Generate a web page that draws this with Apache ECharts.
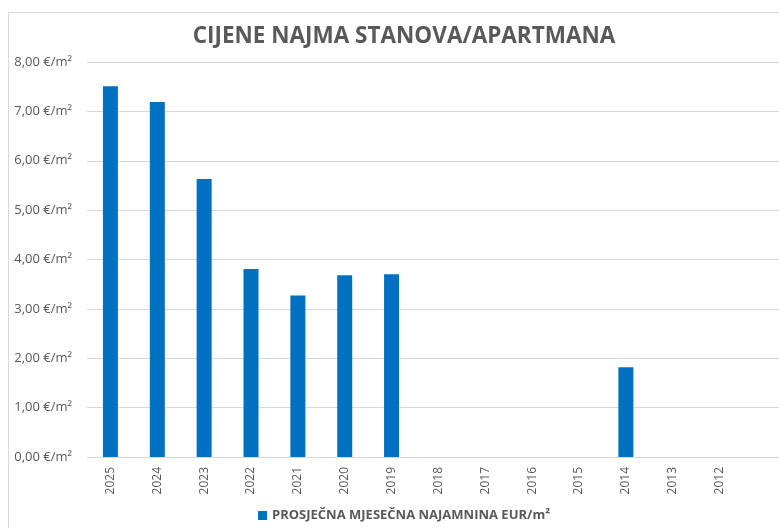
<!DOCTYPE html>
<html>
<head>
    <meta charset="utf-8">
    <title>Cijene najma</title>
    <script src="https://cdn.jsdelivr.net/npm/echarts@6/dist/echarts.min.js"></script>
    <style>
        html, body { margin: 0; padding: 0; background: #fff; }
        #frame { position: absolute; left: 8px; top: 12px; width: 790px; height: 530px;
                 border-left: 1px solid #d9d9d9; border-top: 1px solid #d9d9d9; }
        #main { position: absolute; left: 0; top: 0; width: 779px; height: 528px; }
    </style>
</head>
<body>
<div id="frame"></div>
<div id="main"></div>
<script type="text/javascript">
    var years = ['2025', '2024', '2023', '2022', '2021', '2020', '2019',
                 '2018', '2017', '2016', '2015', '2014', '2013', '2012'];
    var rent = [7.51, 7.19, 5.63, 3.81, 3.27, 3.68, 3.70,
                null, null, null, null, 1.82, null, null];
    var yTicks = [0, 1, 2, 3, 4, 5, 6, 7, 8];
    var seriesName = 'PROSJEČNA MJESEČNA NAJAMNINA EUR/m²';

    var myChart = echarts.init(document.getElementById('main'));

    var yMin = yTicks[0], yMax = yTicks[yTicks.length - 1];

    var option = {
        animation: false,
        textStyle: { fontFamily: 'Open Sans' },
        title: {
            text: 'CIJENE NAJMA STANOVA/APARTMANA',
            left: 399,
            textAlign: 'center',
            top: 20,
            textStyle: { fontSize: 22.5, fontWeight: 'bold', color: '#595959', fontFamily: 'Open Sans' }
        },
        legend: {
            bottom: 1,
            left: 253,
            itemWidth: 9,
            itemHeight: 9,
            icon: 'rect',
            itemGap: 5,
            textStyle: { fontSize: 13, fontWeight: 'bold', color: '#595959' },
            data: [seriesName]
        },
        // grid 0: bars and labels; grid 1: only the horizontal gridlines, running to the right edge
        grid: [
            { left: 87, right: 36, top: 62, bottom: 71, containLabel: false },
            { left: 87, right: 0, top: 62, bottom: 71, containLabel: false }
        ],
        xAxis: [{
            gridIndex: 0,
            type: 'category',
            data: years,
            axisTick: { show: false },
            axisLine: { show: false },
            axisLabel: { rotate: 90, margin: 10, fontSize: 12, color: '#595959', interval: 0 }
        }, {
            gridIndex: 1,
            type: 'value',
            min: 0, max: 1,
            show: false
        }],
        yAxis: [{
            gridIndex: 0,
            type: 'value',
            min: yMin,
            max: yMax,
            interval: 1,
            axisLine: { show: false },
            axisTick: { show: false },
            splitLine: { show: false },
            axisLabel: {
                fontSize: 13,
                color: '#595959',
                margin: 15,
                formatter: function (v) { return v.toFixed(2).replace('.', ',') + ' €/m²'; }
            }
        }, {
            gridIndex: 1,
            type: 'value',
            min: yMin,
            max: yMax,
            interval: 1,
            axisLine: { show: false },
            axisTick: { show: false },
            axisLabel: { show: false },
            splitLine: { lineStyle: { color: '#d9d9d9' } }
        }],
        series: [{
            name: seriesName,
            type: 'bar',
            xAxisIndex: 0,
            yAxisIndex: 0,
            data: rent,
            barWidth: 15,
            z: 5,
            itemStyle: { color: '#0070c0' }
        }]
    };

    myChart.setOption(option);
</script>
</body>
</html>
